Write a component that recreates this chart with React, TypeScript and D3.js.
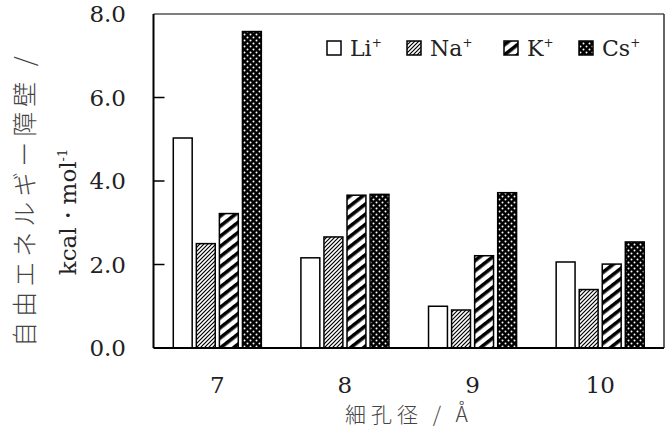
import React from "react";
import * as d3 from "d3";

const categories = ["7", "8", "9", "10"];
const seriesNames = ["Li", "Na", "K", "Cs"];
const liValues = [5.03, 2.16, 1.0, 2.06];
const naValues = [2.5, 2.66, 0.91, 1.4];
const kValues = [3.22, 3.66, 2.21, 2.01];
const csValues = [7.58, 3.68, 3.72, 2.54];
const yTicks = [0, 2, 4, 6, 8];

const W = 671;
const H = 427;
const m = { left: 153.5, right: 664, top: 14, bottom: 348 };

export default function App() {
  const series = [liValues, naValues, kValues, csValues];
  const fills = ["#fff", "url(#patNa)", "url(#patK)", "url(#patCs)"];
  const x = d3.scaleBand().domain(categories).range([m.left, m.right]).paddingInner(0.31).paddingOuter(0.155);
  const xs = d3.scaleBand().domain(seriesNames).range([0, x.bandwidth()]).paddingInner(0.18);
  const y = d3.scaleLinear().domain([0, 8]).range([m.bottom, m.top]);
  const serif = "'DejaVu Serif', serif";
  const cjk = "'Noto Sans CJK JP', sans-serif";
  const legendX = [327, 407, 504, 579];

  return (
    <svg width={W} height={H} style={{ position: "absolute", left: 0, top: 0, background: "#fff" }}>
      <defs>
        <pattern id="patNa" width="4" height="4" patternUnits="userSpaceOnUse">
          <rect width="4" height="4" fill="#fff" />
          <path d="M-1,5 L5,-1 M-1,1 L1,-1 M3,5 L5,3" stroke="#000" strokeWidth="1.2" />
        </pattern>
        <pattern id="patK" width="10" height="8" patternUnits="userSpaceOnUse" patternTransform="rotate(-38)">
          <rect width="10" height="8" fill="#fff" />
          <rect width="10" height="3.6" fill="#000" />
        </pattern>
        <pattern id="patCs" width="6" height="6" patternUnits="userSpaceOnUse">
          <rect width="6" height="6" fill="#000" />
          <circle cx="1.5" cy="1.5" r="1" fill="#fff" />
          <circle cx="4.5" cy="4.5" r="1" fill="#fff" />
        </pattern>
      </defs>

      {/* frame */}
      <line x1={m.left} x2={m.right} y1={m.top} y2={m.top} stroke="#555" strokeWidth={1.5} />
      <line x1={m.right} x2={m.right} y1={m.top} y2={m.bottom} stroke="#333" strokeWidth={1.5} />

      {/* bars */}
      {categories.map((c, ci) => (
        <g key={c}>
          {seriesNames.map((s, si) => {
            const v = series[si][ci];
            return (
              <rect
                key={s}
                x={(x(c) as number) + (xs(s) as number)}
                y={y(v)}
                width={xs.bandwidth()}
                height={y(0) - y(v)}
                fill={fills[si]}
                stroke="#000"
                strokeWidth={1.5}
              />
            );
          })}
        </g>
      ))}

      {/* axes */}
      <line x1={m.left} x2={m.left} y1={m.top} y2={m.bottom} stroke="#000" strokeWidth={2} />
      <line x1={m.left} x2={m.right} y1={m.bottom} y2={m.bottom} stroke="#000" strokeWidth={2} />
      {yTicks.map((t) => (
        <g key={t}>
          {t > 0 && t < 8 && <line x1={m.left} x2={m.left + 11} y1={y(t)} y2={y(t)} stroke="#000" strokeWidth={1.5} />}
          <text x={126} y={y(t)} dy="0.36em" textAnchor="end" fontFamily={serif} fontSize={23} fill="#222">
            {t.toFixed(1)}
          </text>
        </g>
      ))}
      {categories.map((c) => (
        <text key={c} x={(x(c) as number) + x.bandwidth() / 2} y={393} textAnchor="middle" fontFamily={serif} fontSize={23} fill="#222">
          {c}
        </text>
      ))}

      {/* axis titles */}
      <text transform="translate(34,199) rotate(-90)" textAnchor="middle" fontFamily={cjk} fontWeight={300} fontSize={25} letterSpacing={5} fill="#444">
        自由エネルギー障壁 /
      </text>
      <text transform="translate(76,212) rotate(-90)" textAnchor="middle" fontFamily={serif} fontSize={23} fill="#222">
        kcal・mol<tspan dy="-9" fontSize={13}>-1</tspan>
      </text>
      <text x={409} y={422} textAnchor="middle" fontFamily={cjk} fontWeight={300} fontSize={21} letterSpacing={5} fill="#444">
        細孔径 / Å
      </text>

      {/* legend */}
      {seriesNames.map((s, si) => (
        <g key={s}>
          <rect x={legendX[si]} y={41} width={14} height={14} fill={fills[si]} stroke="#000" strokeWidth={1.5} />
          <text x={legendX[si] + 23} y={56} fontFamily={serif} fontSize={22} fill="#222">
            {s}
            <tspan dy="-9" fontSize={12}>+</tspan>
          </text>
        </g>
      ))}
    </svg>
  );
}
